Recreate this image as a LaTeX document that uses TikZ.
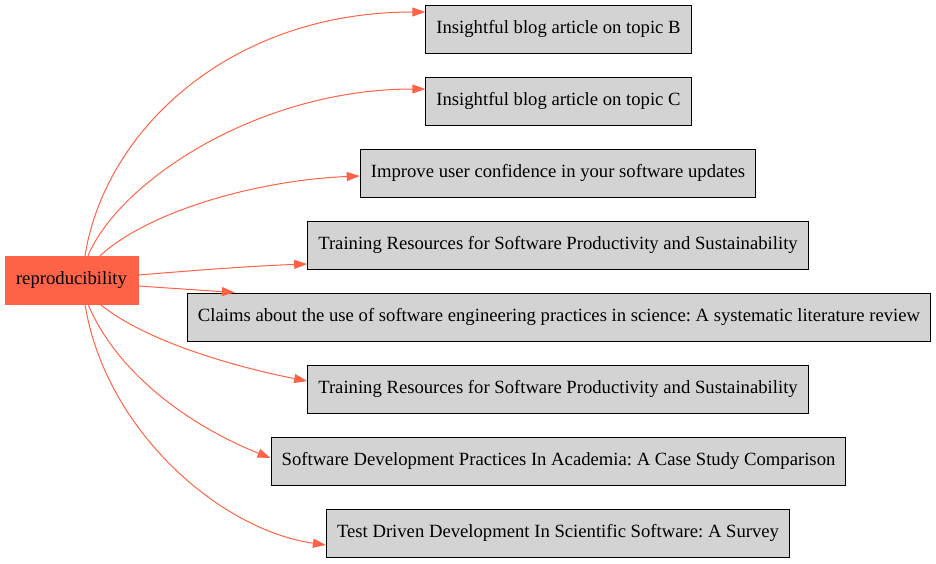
\documentclass[tikz,border=0pt]{standalone}
\usepackage{fontspec}
\setmainfont{Liberation Serif}
\usetikzlibrary{arrows.meta}
\definecolor{tomato}{HTML}{FF6347}
\definecolor{boxgray}{HTML}{D3D3D3}
\newcommand\labelsize{\fontsize{18.67}{22}\selectfont\frenchspacing}
\tikzset{
  topic/.style={draw=tomato, fill=tomato, minimum width=133pt, minimum height=48pt, inner xsep=8pt,
    font={\labelsize}},
  entry/.style={draw=black, fill=boxgray, minimum height=48pt, inner xsep=10.6pt, line width=1pt,
    font={\labelsize}},
  link/.style={draw=tomato, line width=1pt, -{Triangle[length=13pt,width=9pt]}}
}
\begin{document}
\begin{tikzpicture}[x=1pt,y=-1pt]
\useasboundingbox (0,0) rectangle (936,563);
\node[topic] (repro) at (71.5,280) {reproducibility};

\node[entry] (blogb) at (558.5,29) {Insightful blog article on topic B};
\node[entry] (blogc) at (558.5,101) {Insightful blog article on topic C};
\node[entry] (improve) at (558,173) {Improve user confidence in your software updates};
\node[entry] (traina) at (558,245) {Training Resources for Software Productivity and Sustainability};
\node[entry] (claims) at (559,317) {Claims about the use of software engineering practices in science: A systematic literature review};
\node[entry] (trainb) at (558,389) {Training Resources for Software Productivity and Sustainability};
\node[entry] (softdev) at (558.5,461) {Software Development Practices In Academia: A Case Study Comparison};
\node[entry] (tdd) at (558,533) {Test Driven Development In Scientific Software: A Survey};

% edges out of the topic node
\draw[link] ([xshift=13.5pt]repro.north) .. controls (105,130) and (230,12) .. ([yshift=17pt]blogb.west);
\draw[link] ([xshift=16.5pt]repro.north) .. controls (120,180) and (260,89) .. ([yshift=12pt]blogc.west);
\draw[link] ([xshift=28.5pt]repro.north) .. controls (150,210) and (260,180) .. ([yshift=-3pt]improve.west);
\draw[link] ([yshift=5pt]repro.east) .. controls (200,270) and (250,266) .. ([yshift=-19pt]traina.west);
\draw[link] ([yshift=-6pt]repro.east) -- ([xshift=48pt]claims.north west);
\draw[link] ([xshift=28.5pt]repro.south) .. controls (150,345) and (250,370) .. ([yshift=8pt]trainb.west);
\draw[link] ([xshift=16.5pt]repro.south) .. controls (120,380) and (200,430) .. ([yshift=3pt]softdev.west);
\draw[link] ([xshift=13.5pt]repro.south) .. controls (105,430) and (220,530) .. ([yshift=-12pt]tdd.west);
\end{tikzpicture}
\end{document}
